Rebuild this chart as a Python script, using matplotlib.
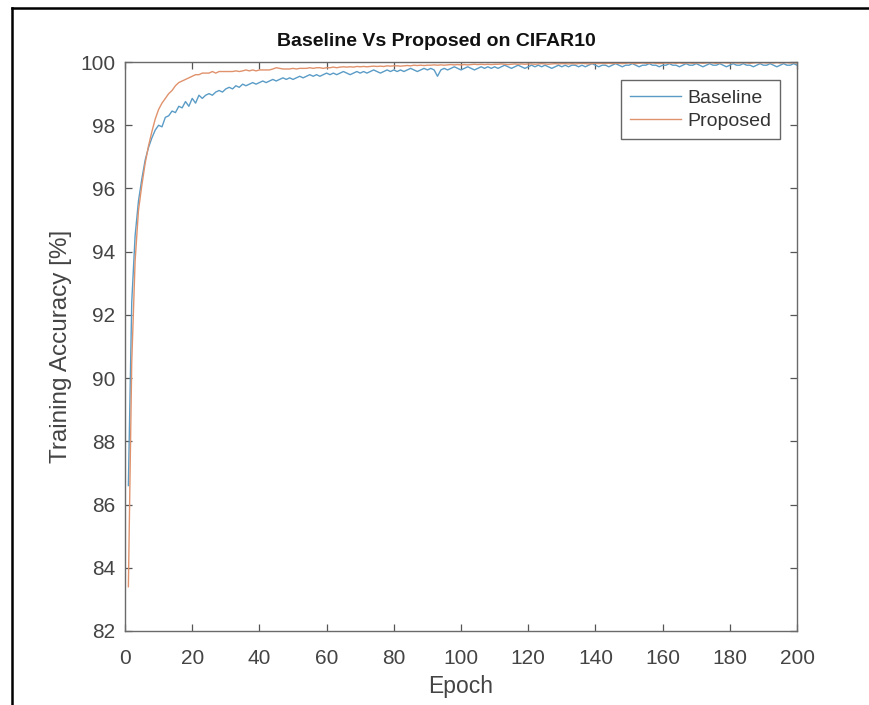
import matplotlib.pyplot as plt
from matplotlib.lines import Line2D
import numpy as np

plt.rcParams['font.family'] = ['Liberation Sans', 'DejaVu Sans']

# training accuracy per epoch
baseline = [
    86.6, 92.4, 94.5, 95.6, 96.3, 96.9, 97.3, 97.6, 97.85, 98.0,
    97.95, 98.25, 98.3, 98.45, 98.4, 98.6, 98.55, 98.75, 98.6, 98.85,
    98.7, 98.95, 98.85, 98.95, 99.0, 98.95, 99.05, 99.1, 99.05, 99.15,
    99.2, 99.15, 99.25, 99.2, 99.3, 99.25, 99.3, 99.35, 99.3, 99.35,
    99.4, 99.35, 99.4, 99.45, 99.4, 99.45, 99.5, 99.45, 99.5, 99.45,
    99.5, 99.55, 99.5, 99.55, 99.6, 99.55, 99.6, 99.55, 99.6, 99.65,
    99.6, 99.65, 99.6, 99.65, 99.7, 99.65, 99.6, 99.65, 99.7, 99.65,
    99.7, 99.65, 99.7, 99.75, 99.7, 99.65, 99.7, 99.75, 99.7, 99.75,
    99.7, 99.75, 99.7, 99.75, 99.8, 99.75, 99.7, 99.75, 99.8, 99.75,
    99.8, 99.75, 99.55, 99.75, 99.8, 99.75, 99.8, 99.85, 99.8, 99.75,
    99.8, 99.85, 99.8, 99.75, 99.8, 99.85, 99.8, 99.85, 99.8, 99.85,
    99.8, 99.85, 99.9, 99.85, 99.8, 99.85, 99.9, 99.85, 99.8, 99.85,
    99.9, 99.85, 99.9, 99.85, 99.9, 99.85, 99.8, 99.85, 99.9, 99.85,
    99.9, 99.85, 99.9, 99.9, 99.85, 99.9, 99.85, 99.9, 99.95, 99.9,
    99.85, 99.9, 99.9, 99.85, 99.9, 99.95, 99.9, 99.85, 99.9, 99.9,
    99.95, 99.9, 99.85, 99.9, 99.9, 99.95, 99.9, 99.9, 99.85, 99.9,
    99.9, 99.95, 99.9, 99.9, 99.85, 99.9, 99.95, 99.9, 99.9, 99.95,
    99.9, 99.85, 99.9, 99.95, 99.9, 99.9, 99.95, 99.9, 99.85, 99.9,
    99.95, 99.9, 99.9, 99.95, 99.9, 99.9, 99.85, 99.9, 99.95, 99.9,
    99.9, 99.95, 99.9, 99.85, 99.9, 99.95, 99.9, 99.9, 99.95, 99.9,
]
proposed = [
    83.4, 90.5, 93.7, 95.3, 96.1, 96.8, 97.35, 97.8, 98.2, 98.5,
    98.7, 98.85, 99.0, 99.1, 99.25, 99.35, 99.4, 99.45, 99.5, 99.55,
    99.6, 99.6, 99.65, 99.65, 99.65, 99.7, 99.65, 99.7, 99.7, 99.7,
    99.7, 99.7, 99.72, 99.7, 99.72, 99.75, 99.72, 99.75, 99.72, 99.75,
    99.75, 99.75, 99.75, 99.78, 99.82, 99.8, 99.78, 99.78, 99.78, 99.8,
    99.78, 99.8, 99.8, 99.8, 99.82, 99.8, 99.82, 99.82, 99.8, 99.82,
    99.82, 99.84, 99.82, 99.84, 99.85, 99.84, 99.85, 99.84, 99.86, 99.85,
    99.86, 99.85, 99.86, 99.87, 99.86, 99.87, 99.86, 99.88, 99.87, 99.88,
    99.88, 99.87, 99.88, 99.89, 99.88, 99.9, 99.89, 99.9, 99.89, 99.9,
    99.9, 99.91, 99.9, 99.91, 99.9, 99.91, 99.92, 99.91, 99.92, 99.91,
    99.92, 99.91, 99.92, 99.93, 99.92, 99.93, 99.92, 99.93, 99.92, 99.93,
    99.93, 99.94, 99.93, 99.92, 99.93, 99.94, 99.93, 99.94, 99.93, 99.94,
    99.94, 99.93, 99.94, 99.95, 99.94, 99.93, 99.94, 99.95, 99.94, 99.95,
    99.95, 99.94, 99.95, 99.94, 99.95, 99.96, 99.95, 99.94, 99.95, 99.96,
    99.95, 99.96, 99.95, 99.96, 99.95, 99.96, 99.96, 99.95, 99.96, 99.97,
    99.96, 99.95, 99.96, 99.97, 99.96, 99.96, 99.97, 99.96, 99.95, 99.96,
    99.97, 99.96, 99.97, 99.96, 99.97, 99.96, 99.97, 99.97, 99.96, 99.97,
    99.97, 99.96, 99.97, 99.98, 99.97, 99.96, 99.97, 99.98, 99.97, 99.97,
    99.98, 99.97, 99.97, 99.98, 99.97, 99.96, 99.97, 99.98, 99.97, 99.98,
    99.97, 99.98, 99.97, 99.98, 99.97, 99.98, 99.98, 99.97, 99.98, 99.97,
]
epochs = np.arange(1, len(baseline) + 1)

xticks = list(range(0, 201, 20))
yticks = list(range(82, 101, 2))

fig = plt.figure(figsize=(8.7, 7.05), dpi=100)
ax = fig.add_axes([0.1437, 0.105, 0.7724, 0.807])

ax.plot(epochs, baseline, color='#5a9cc6', lw=1.0, label='Baseline')
ax.plot(epochs, proposed, color='#e0926c', lw=1.0, label='Proposed')

ax.set_xlim(0, 200)
ax.set_ylim(82, 100)
ax.set_xticks(xticks)
ax.set_yticks(yticks)

for s in ax.spines.values():
    s.set_color('#6a6a6a')
    s.set_linewidth(1.0)
ax.tick_params(direction='in', top=True, right=True, length=5, width=0.9,
               color='#555555', labelsize=15, labelcolor='#444444')
ax.tick_params(axis='x', pad=13)
ax.tick_params(axis='y', pad=7)

ax.set_xlabel('Epoch', fontsize=16.5, color='#444444', labelpad=5)
ax.set_ylabel('Training Accuracy [%]', fontsize=17.5, color='#444444', labelpad=6)
# title sits a little left of the axes centre in the original
fig.text(436 / 870, 1 - 42 / 705, 'Baseline Vs Proposed on CIFAR10', fontsize=14,
         fontweight='bold', color='#111111', ha='center', va='center')

leg = ax.legend(loc='upper right', bbox_to_anchor=(0.975, 0.968), fontsize=14,
                fancybox=False, framealpha=1, edgecolor='#666666',
                handlelength=2.6, borderpad=0.45, labelspacing=0.3,
                handletextpad=0.35, borderaxespad=0)
leg.get_frame().set_linewidth(1.0)
for t in leg.get_texts():
    t.set_color('#333333')

# border of the cropped screenshot
fig.add_artist(Line2D([12 / 870, 12 / 870], [0, 1 - 8 / 705], color='black',
                      lw=1.8, transform=fig.transFigure))
fig.add_artist(Line2D([12 / 870, 1], [1 - 8 / 705, 1 - 8 / 705], color='black',
                      lw=1.8, transform=fig.transFigure))

fig.savefig('out.png', dpi=100)
